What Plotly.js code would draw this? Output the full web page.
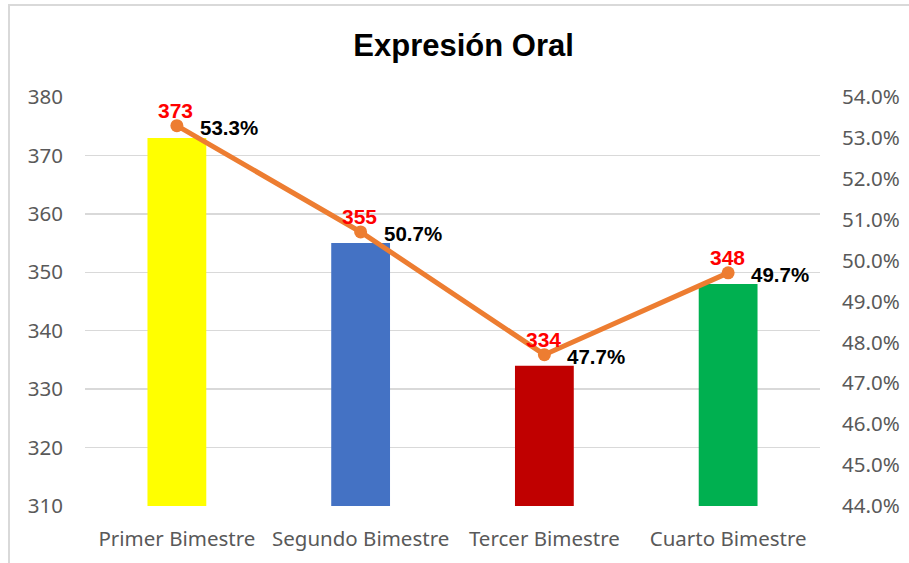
<!DOCTYPE html>
<html>
<head>
<meta charset="utf-8">
<script src="https://cdn.plot.ly/plotly-3.0.1.min.js"></script>
<style>
  html, body { margin: 0; padding: 0; background: #fff; }
  #frame { position: absolute; left: 8px; top: 4px; width: 920px; height: 600px;
           border-left: 2px solid #D9D9D9; border-top: 2px solid #D9D9D9; }
  #chart { position: absolute; left: 0; top: 0; width: 909px; height: 563px; }
</style>
</head>
<body>
<div id="frame"></div>
<div id="chart"></div>
<script>
const categories = ["Primer Bimestre", "Segundo Bimestre", "Tercer Bimestre", "Cuarto Bimestre"];
const barValues = [373, 355, 334, 348];
const percentValues = [53.3, 50.7, 47.7, 49.7];
const barColors = ["#FFFF00", "#4472C4", "#C00000", "#00B050"];
const leftTicks = [310, 320, 330, 340, 350, 360, 370, 380];
const rightTicks = [44, 45, 46, 47, 48, 49, 50, 51, 52, 53, 54];

const tickFont = { family: "Noto Sans, Open Sans, sans-serif", size: 20.5, color: "#595959" };
const labelFamily = "Liberation Sans, Arial, sans-serif";

const traces = [
  {
    type: "bar",
    x: categories,
    y: barValues,
    marker: { color: barColors },
    width: 0.32,
    yaxis: "y",
    hoverinfo: "skip"
  },
  {
    type: "scatter",
    mode: "lines+markers",
    x: categories,
    y: percentValues,
    yaxis: "y2",
    line: { color: "#ED7D31", width: 5 },
    marker: { color: "#ED7D31", size: 13 },
    cliponaxis: false,
    hoverinfo: "skip"
  }
];

const pctAnnotations = categories.map((c, i) => ({
  x: c,
  y: percentValues[i],
  xref: "x",
  yref: "y2",
  text: "<b>" + percentValues[i].toFixed(1) + "%</b>",
  showarrow: false,
  xanchor: "left",
  yanchor: "middle",
  xshift: 21,
  yshift: -2,
  font: { family: labelFamily, size: 20.5, color: "#000000" }
}));

const valueAnnotations = categories.map((c, i) => ({
  x: c,
  y: percentValues[i],
  xref: "x",
  yref: "y2",
  text: "<b>" + barValues[i] + "</b>",
  showarrow: false,
  xanchor: "center",
  yanchor: "middle",
  xshift: -1,
  yshift: 15,
  font: { family: labelFamily, size: 21, color: "#FF0000" }
}));

const layout = {
  width: 909,
  height: 563,
  margin: { l: 85, r: 89, t: 97, b: 57 },
  paper_bgcolor: "rgba(0,0,0,0)",
  plot_bgcolor: "rgba(0,0,0,0)",
  showlegend: false,
  bargap: 0.68,
  title: {
    text: "<b>Expresión Oral</b>",
    x: 0.51,
    xanchor: "center",
    y: 0.92,
    yanchor: "middle",
    font: { family: labelFamily, size: 31, color: "#000000" }
  },
  xaxis: {
    type: "category",
    tickfont: { family: "Noto Sans, Open Sans, sans-serif", size: 20.5, color: "#595959" },
    showgrid: false,
    showline: false,
    ticks: "",
    ticklabelstandoff: 18
  },
  yaxis: {
    range: [310, 380],
    tickvals: leftTicks,
    ticktext: leftTicks.map(String),
    tickfont: tickFont,
    showgrid: true,
    gridcolor: "#D9D9D9",
    gridwidth: 1.5,
    zeroline: false,
    showline: false,
    ticks: "",
    ticklabelstandoff: 21
  },
  yaxis2: {
    overlaying: "y",
    side: "right",
    range: [44, 54],
    tickvals: rightTicks,
    ticktext: rightTicks.map(v => v.toFixed(1) + "%"),
    tickfont: tickFont,
    showgrid: false,
    zeroline: false,
    showline: false,
    ticks: "",
    ticklabelstandoff: 21
  },
  annotations: valueAnnotations.concat(pctAnnotations)
};

Plotly.newPlot("chart", traces, layout, { displayModeBar: false, staticPlot: true });
</script>
</body>
</html>
